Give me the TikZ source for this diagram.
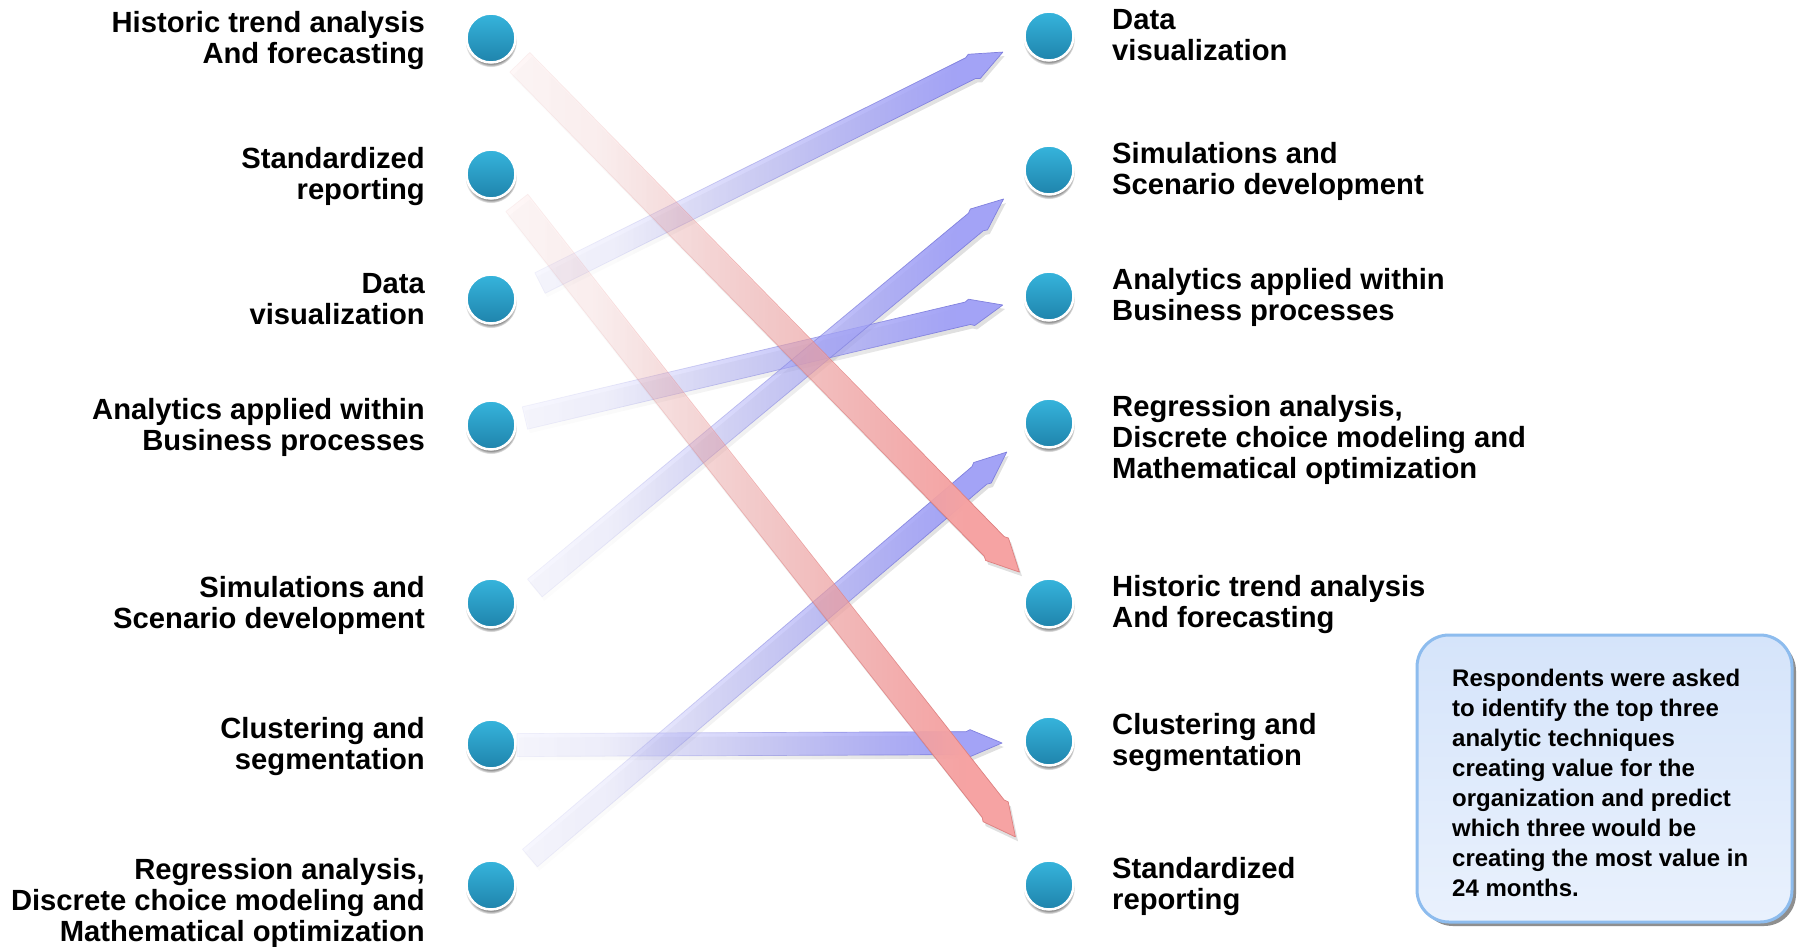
\documentclass[tikz,border=0pt]{standalone}
\usepackage{fontspec}
\setmainfont{Liberation Sans}
\usetikzlibrary{calc,shadows,fadings}

\definecolor{ballTop}{HTML}{36B4DC}
\definecolor{ballBot}{HTML}{1F84AB}
\definecolor{arrBlue}{HTML}{A3A3F6}
\definecolor{arrBlueEdge}{HTML}{8080DE}
\definecolor{arrRed}{HTML}{F6A3A3}
\definecolor{arrRedEdge}{HTML}{DE8080}
\definecolor{noteTop}{HTML}{D5E4FA}
\definecolor{noteBot}{HTML}{E9F1FD}
\definecolor{noteEdge}{HTML}{8DBCEE}

\pgfdeclarehorizontalshading{tailfadeshade}{100bp}{color(0bp)=(black); color(14bp)=(black); color(34bp)=(black!85); color(52bp)=(black!45); color(70bp)=(white); color(100bp)=(white)}
\pgfdeclarefading{tailfade}{\pgfuseshading{tailfadeshade}}

\pgfdeclarelayer{arrowlayer}
\pgfsetlayers{arrowlayer,main}

\newcommand{\rlines}[1]{\vtop{\halign{\hfil##\cr#1\crcr}}}
\newcommand{\llines}[1]{\vtop{\halign{##\hfil\cr#1\crcr}}}

% #1 tail, #2 tip, #3 half width, #4 style
\newcommand{\fatarrow}[4]{%
  \coordinate (#1h) at ($(#2)!36pt!(#1)$);
  \coordinate (#1f) at ($(#2)!32pt!(#1)$);
  \path[#4] ($(#1)!#3!90:(#2)$) -- ($(#1h)!#3!90:(#2)$) -- ($(#1f)!#3+2pt!90:(#2)$) -- (#2)
    -- ($(#1f)!#3+2pt!-90:(#2)$) -- ($(#1h)!#3!-90:(#2)$) -- ($(#1)!#3!-90:(#2)$) -- cycle;
}

\tikzset{
  ball/.style={circle, minimum size=49pt, inner sep=0pt, draw=white, line width=2.5pt,
    top color=ballTop, bottom color=ballBot,
    circular drop shadow={shadow xshift=0pt, shadow yshift=-3pt, shadow scale=1.06}},
  lab/.style={font=\fontsize{29.2}{31}\selectfont\bfseries, inner sep=0pt},
  bluearrow/.style={fill=arrBlue, draw=arrBlueEdge, line width=0.7pt, line join=round, path fading=tailfade},
  redarrow/.style={fill=arrRed, draw=arrRedEdge, line width=0.7pt, line join=round, path fading=tailfade},
  arrowshadow/.style={fill=black, fill opacity=0.12, draw=none, path fading=tailfade,
    transform canvas={shift={(2pt,-4pt)}}},
  notebox/.style={rounded corners=32pt, draw=noteEdge, line width=3pt, top color=noteTop, bottom color=noteBot,
    minimum width=375pt, minimum height=287pt, inner sep=0pt,
    drop shadow={shadow xshift=4pt, shadow yshift=-4pt, fill=black!55, opacity=0.8}},
  notetxt/.style={font=\fontsize{24}{30}\selectfont\bfseries, inner sep=0pt}
}

\begin{document}
\begin{tikzpicture}[x=1pt,y=-1pt]
\useasboundingbox (0,0) rectangle (1802,946);

% circles
\node[ball] (lc1) at (491,38) {};
\node[ball] (lc2) at (491,174) {};
\node[ball] (lc3) at (491,299) {};
\node[ball] (lc4) at (491,425) {};
\node[ball] (lc5) at (491,603) {};
\node[ball] (lc6) at (491,744) {};
\node[ball] (lc7) at (491,885) {};
\node[ball] (rc1) at (1049,36) {};
\node[ball] (rc2) at (1049,170) {};
\node[ball] (rc3) at (1049,296) {};
\node[ball] (rc4) at (1049,423) {};
\node[ball] (rc5) at (1049,603) {};
\node[ball] (rc6) at (1049,741) {};
\node[ball] (rc7) at (1049,885) {};

% arrow end points
\coordinate (tA) at ($(lc3)+(49,-16)$);  \coordinate (hA) at ($(rc1)+(-46,16)$);
\coordinate (tB) at ($(lc4)+(34,-7)$);   \coordinate (hB) at ($(rc3)+(-46,9)$);
\coordinate (tC) at ($(lc5)+(44,-15)$);  \coordinate (hC) at ($(rc2)+(-45,29)$);
\coordinate (tD) at ($(lc6)+(26,1)$);    \coordinate (hD) at ($(rc6)+(-47,2)$);
\coordinate (tE) at ($(lc7)+(39,-27)$);  \coordinate (hE) at ($(rc4)+(-42,29)$);
\coordinate (tR) at ($(lc1)+(29,24)$);   \coordinate (hR) at ($(rc5)+(-29,-31)$);
\coordinate (tS) at ($(lc2)+(26,29)$);   \coordinate (hS) at ($(rc7)+(-33,-48)$);

\begin{pgfonlayer}{arrowlayer}
\fill[white] (0,0) rectangle (1802,946);
\fatarrow{tA}{hA}{11.5pt}{arrowshadow}
\fatarrow{tB}{hB}{11.5pt}{arrowshadow}
\fatarrow{tC}{hC}{11.5pt}{arrowshadow}
\fatarrow{tD}{hD}{11.5pt}{arrowshadow}
\fatarrow{tE}{hE}{11.5pt}{arrowshadow}
\fatarrow{tA}{hA}{11.5pt}{bluearrow}
\fatarrow{tB}{hB}{11.5pt}{bluearrow}
\fatarrow{tC}{hC}{11.5pt}{bluearrow}
\fatarrow{tD}{hD}{11.5pt}{bluearrow}
\fatarrow{tE}{hE}{11.5pt}{bluearrow}
\fatarrow{tR}{hR}{14pt}{arrowshadow}
\fatarrow{tS}{hS}{14pt}{arrowshadow}
\fatarrow{tR}{hR}{14pt}{redarrow}
\fatarrow{tS}{hS}{14pt}{redarrow}
\end{pgfonlayer}

% left labels
\node[lab, anchor=base east] (lt1) at ($(lc1)+(-66,-6)$) {\rlines{Historic trend analysis\cr And forecasting}};
\node[lab, anchor=base east] (lt2) at ($(lc2)+(-66,-6)$) {\rlines{Standardized\cr reporting}};
\node[lab, anchor=base east] (lt3) at ($(lc3)+(-66,-6)$) {\rlines{Data\cr visualization}};
\node[lab, anchor=base east] (lt4) at ($(lc4)+(-66,-6)$) {\rlines{Analytics applied within\cr Business processes}};
\node[lab, anchor=base east] (lt5) at ($(lc5)+(-66,-6)$) {\rlines{Simulations and\cr Scenario development}};
\node[lab, anchor=base east] (lt6) at ($(lc6)+(-66,-6)$) {\rlines{Clustering and\cr segmentation}};
\node[lab, anchor=base east] (lt7) at ($(lc7)+(-66,-6)$) {\rlines{Regression analysis,\cr Discrete choice modeling and\cr Mathematical optimization}};

% right labels
\node[lab, anchor=base west] (rt1) at ($(rc1)+(63,-7)$) {\llines{Data\cr visualization}};
\node[lab, anchor=base west] (rt2) at ($(rc2)+(63,-7)$) {\llines{Simulations and\cr Scenario development}};
\node[lab, anchor=base west] (rt3) at ($(rc3)+(63,-7)$) {\llines{Analytics applied within\cr Business processes}};
\node[lab, anchor=base west] (rt4) at ($(rc4)+(63,-7)$) {\llines{Regression analysis,\cr Discrete choice modeling and\cr Mathematical optimization}};
\node[lab, anchor=base west] (rt5) at ($(rc5)+(63,-7)$) {\llines{Historic trend analysis\cr And forecasting}};
\node[lab, anchor=base west] (rt6) at ($(rc6)+(63,-7)$) {\llines{Clustering and\cr segmentation}};
\node[lab, anchor=base west] (rt7) at ($(rc7)+(63,-7)$) {\llines{Standardized\cr reporting}};

% note
\node[notebox] (note) at (1604.5,778.5) {};
\node[notetxt, anchor=base west] (notetext) at (1452,686) {\llines{Respondents were asked\cr to identify the top three\cr analytic techniques\cr creating value for the\cr organization and predict\cr which three would be\cr creating the most value in\cr 24 months.}};
\end{tikzpicture}
\end{document}
